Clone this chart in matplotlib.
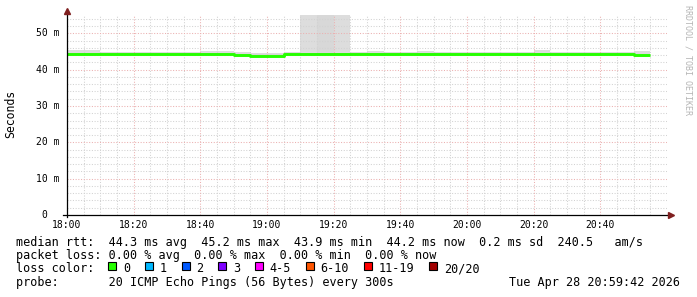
import matplotlib
matplotlib.use('Agg')
import matplotlib.pyplot as plt
import numpy as np
from matplotlib.patches import Rectangle
from matplotlib import transforms

# ---------------- data ----------------
start_hour, start_min = 18, 0          # first sample 18:00
step_minutes = 5                        # 300 s steps
x_span_minutes = 180                    # 18:00 .. 21:00

# median rtt per 5-minute step (ms)
median = [44.3, 44.3, 44.3, 44.3, 44.3, 44.3, 44.3, 44.3, 44.3, 44.3,
          44.15, 43.8, 43.8, 44.3, 44.3, 44.3, 44.3, 44.3, 44.3, 44.3,
          44.3, 44.3, 44.3, 44.3, 44.3, 44.3, 44.3, 44.3, 44.3, 44.3,
          44.3, 44.3, 44.3, 44.3, 44.0]
# smoke (ping spread) upper / lower bounds (ms)
smoke_hi = [45.3, 45.3, 44.85, 44.85, 44.85, 44.85, 44.85, 44.85, 45.0, 45.0,
            44.9, 44.45, 44.45, 44.9, 56.0, 56.0, 56.0, 44.9, 45.1, 44.9,
            44.9, 45.1, 44.9, 44.9, 44.9, 44.9, 44.9, 44.9, 45.45, 44.9,
            44.9, 44.9, 44.9, 44.9, 45.2]
smoke_lo = [44.0, 44.0, 44.0, 44.0, 44.0, 44.0, 44.0, 44.0, 44.0, 44.0,
            43.5, 43.6, 43.6, 44.0, 44.0, 44.0, 44.0, 44.0, 44.0, 44.0,
            44.0, 44.0, 44.0, 44.0, 44.0, 44.0, 44.0, 44.0, 44.0, 44.0,
            44.0, 44.0, 44.0, 44.0, 43.4]
# slightly denser core of the smoke
smoke_core_hi = [44.3] * 15 + [56.0] + [44.3] * 19

xtick_minutes = [0, 20, 40, 60, 80, 100, 120, 140, 160]
xtick_labels = ['18:00', '18:20', '18:40', '19:00', '19:20', '19:40',
                '20:00', '20:20', '20:40']
ytick_values = [0, 10, 20, 30, 40, 50]
ytick_labels = ['0', '10 m', '20 m', '30 m', '40 m', '50 m']
y_max = 55.03

loss_labels = ['0', '1', '2', '3', '4-5', '6-10', '11-19', '20/20']
loss_colors = ['#26ff00', '#00b8ff', '#0059ff', '#7e00ff', '#ff00ff',
               '#ff5500', '#ff0000', '#a10000']

legend_rows = [
    'median rtt:  44.3 ms avg  45.2 ms max  43.9 ms min  44.2 ms now  0.2 ms sd  240.5   am/s',
    'packet loss: 0.00 % avg  0.00 % max  0.00 % min  0.00 % now',
    'loss color:',
    'probe:       20 ICMP Echo Pings (56 Bytes) every 300s',
]
date_text = 'Tue Apr 28 20:59:42 2026'
y_label = 'Seconds'
watermark = 'RRDTOOL / TOBI OETIKER'

# ---------------- figure ----------------
W, H = 697, 297
MONO = 'DejaVu Sans Mono'
plt.rcParams['font.family'] = MONO
fig = plt.figure(figsize=(W / 100, H / 100), dpi=100)
fig.patch.set_facecolor('white')

L, B, PW, PH = 67, 215, 600, 200   # plot area in pixels (left, bottom-y, width, height)
ax = fig.add_axes([L / W, (H - B) / H, PW / W, PH / H])
ax.set_facecolor('white')
ax.set_xlim(0, x_span_minutes)
ax.set_ylim(0, y_max)
for s in ax.spines.values():
    s.set_visible(False)
ax.set_xticks([])
ax.set_yticks([])

n = len(median)
edges = np.arange(n + 1) * step_minutes
med_e = np.append(median, median[-1])
hi_e = np.append(smoke_hi, smoke_hi[-1])
lo_e = np.append(smoke_lo, smoke_lo[-1])
core_e = np.append(smoke_core_hi, smoke_core_hi[-1])

# smoke
ax.fill_between(edges, lo_e, hi_e, step='post', color='#dddddd', lw=0, zorder=1)
ax.fill_between(edges, med_e, core_e, step='post', color='#d8d8d8', lw=0, zorder=1.1)

# grid
minor_c = '#d2d2d2'
major_c = '#ebb0b0'
dash = (0, (1, 1.6))
for m in range(0, x_span_minutes + 1, step_minutes):
    if m in xtick_minutes:
        continue
    ax.axvline(m, color=minor_c, lw=0.75, ls=dash, zorder=1.5)
for v in np.arange(2, y_max, 2):
    if int(round(v)) % 10 == 0:
        continue
    ax.axhline(v, color=minor_c, lw=0.75, ls=dash, zorder=1.5)
for m in xtick_minutes[1:]:
    ax.axvline(m, color=major_c, lw=0.75, ls=dash, zorder=1.6)
for v in ytick_values[1:]:
    ax.axhline(v, color=major_c, lw=0.75, ls=dash, zorder=1.6)

# median line
ax.plot(edges, med_e, drawstyle='steps-post', color=loss_colors[0], lw=2.1,
        zorder=3, solid_capstyle='butt')

# axes with arrows
px = 1.0 / PW
py = 1.0 / PH
ax.plot([-4 * px, 1 + 1.5 * px], [0, 0], color='black', lw=0.9,
        transform=ax.transAxes, clip_on=False, zorder=4)
ax.plot([0, 0], [-2 * py, 1 + 2 * py], color='black', lw=0.9,
        transform=ax.transAxes, clip_on=False, zorder=4)
ax.plot([1 + 4 * px], [0], marker='>', ms=4.2, color='#7f1f1f', mec='#7f1f1f',
        transform=ax.transAxes, clip_on=False, zorder=5)
ax.plot([0], [1 + 3.5 * py], marker='^', ms=4.2, color='#7f1f1f', mec='#7f1f1f',
        transform=ax.transAxes, clip_on=False, zorder=5)

# tick labels
xt = transforms.blended_transform_factory(ax.transData, ax.transAxes)
for m, lab in zip(xtick_minutes, xtick_labels):
    ax.text(m, -9.5 * py, lab, transform=xt, ha='center', va='center',
            fontsize=7.05, color='black')
yt = transforms.blended_transform_factory(ax.transAxes, ax.transData)
for v, lab in zip(ytick_values, ytick_labels):
    xoff = -7 * px if lab != '0' else -19.3 * px
    ax.text(xoff, v, lab, transform=yt, ha='right', va='center',
            fontsize=7.05, color='black')

# y label & watermark
fig.text(11 / W, 1 - 114 / H, y_label, rotation=90, ha='center', va='center',
         fontsize=8.3, color='black')
fig.text(687.7 / W, 1 - 60 / H, watermark, rotation=270, ha='center',
         va='center', fontsize=6, color='#b5b5b5')

# legend rows
baselines = [246.0, 259.4, 272.3, 286.2]
for txt, yb in zip(legend_rows, baselines):
    fig.text(16 / W, 1 - yb / H, txt, ha='left', va='baseline',
             fontsize=8.5, color='black')
fig.text(680 / W, 1 - baselines[3] / H, date_text, ha='right', va='baseline',
         fontsize=8.5, color='black')

# loss colour boxes
char_w = 7.1
bx = 108.3
for lab, col in zip(loss_labels, loss_colors):
    fig.add_artist(Rectangle((bx / W, 1 - 270.3 / H), 8 / W, 8 / H,
                             transform=fig.transFigure, facecolor=col,
                             edgecolor='black', lw=0.8))
    fig.text((bx + 14.7) / W, 1 - baselines[2] / H, lab, ha='left',
             va='baseline', fontsize=8.5, color='black')
    bx += 36.7 + (len(lab) - 1) * char_w

fig.savefig('out.png', dpi=100, facecolor='white')
